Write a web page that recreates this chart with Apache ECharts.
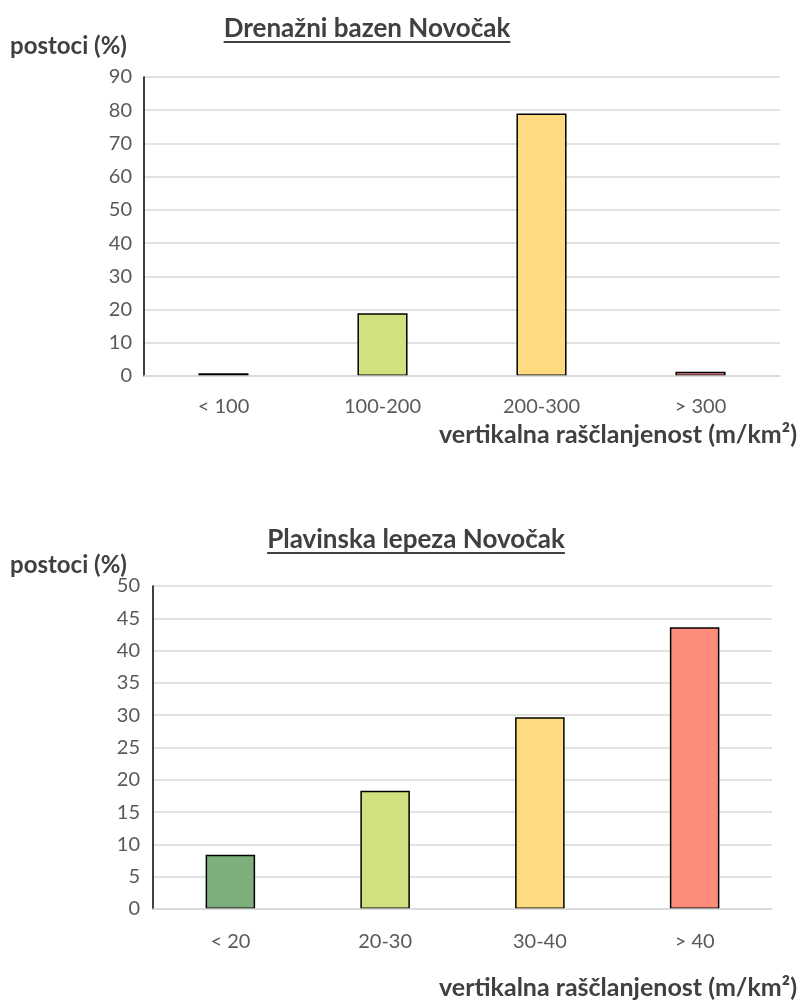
<!DOCTYPE html>
<html>
<head>
<meta charset="utf-8">
<script src="https://cdn.jsdelivr.net/npm/echarts@6/dist/echarts.min.js"></script>
<style>
html,body{margin:0;padding:0;background:#fff;}
#chart{width:803px;height:1003px;}
</style>
</head>
<body>
<div id="chart"></div>
<script>
// ---- data ----
const title1 = 'Drenažni bazen Novočak';
const title2 = 'Plavinska lepeza Novočak';
const categories1 = ['< 100', '100-200', '200-300', '> 300'];
const values1 = [0.8, 18.9, 79.0, 1.3];
const colors1 = ['#7daf7d', '#d3e07f', '#fedb80', '#f98b8b'];
const categories2 = ['< 20', '20-30', '30-40', '> 40'];
const values2 = [8.4, 18.3, 29.7, 43.6];
const colors2 = ['#7daf7d', '#d3e07f', '#fedb80', '#fe8c7a'];
const yName = 'postoci (%)';
const xName = 'vertikalna raščlanjenost (m/km²)';

const FONT = 'Lato';
const chart = echarts.init(document.getElementById('chart'), null, {renderer: 'canvas'});

function measure(text, font) {
  const c = document.createElement('canvas').getContext('2d');
  c.font = font;
  return c.measureText(text).width;
}

function titleGraphic(text, cx, cy) {
  const font = 'bold 26px ' + FONT;
  const w = measure(text, font);
  return [
    {type: 'text', left: cx - w / 2, top: cy - 14,
     style: {text: text, font: font, fill: '#404040'}},
    {type: 'line', shape: {x1: cx - w / 2, y1: cy + 12, x2: cx + w / 2, y2: cy + 12},
     style: {stroke: '#404040', lineWidth: 1.8}}
  ];
}

function bars(values, colors) {
  return values.map((v, i) => ({value: v, itemStyle: {color: colors[i]}}));
}

const axisLabelStyle = {color: '#595959', fontSize: 20, fontFamily: FONT};
const nameFont = 'bold 24px ' + FONT;
const xNameFont = 'bold 25px ' + FONT;

const option = {
  animation: false,
  grid: [
    {left: 144, right: 23, top: 77, bottom: 627},
    {left: 153, right: 31, top: 586, bottom: 94}
  ],
  xAxis: [0, 1].map(i => ({
    type: 'category', gridIndex: i,
    data: i === 0 ? categories1 : categories2,
    axisLine: {lineStyle: {color: '#d9d9d9', width: 1.5}},
    axisTick: {show: false},
    axisLabel: Object.assign({margin: i === 0 ? 21 : 23}, axisLabelStyle),
    z: 5
  })),
  yAxis: [
    {type: 'value', gridIndex: 0, min: 0, max: 90, interval: 10,
     axisLine: {show: true, lineStyle: {color: '#000', width: 1.5}},
     axisTick: {show: false},
     splitLine: {lineStyle: {color: '#d9d9d9', width: 1.5}},
     axisLabel: Object.assign({margin: 12}, axisLabelStyle)},
    {type: 'value', gridIndex: 1, min: 0, max: 50, interval: 5,
     axisLine: {show: true, lineStyle: {color: '#000', width: 1.5}},
     axisTick: {show: false},
     splitLine: {lineStyle: {color: '#d9d9d9', width: 1.5}},
     axisLabel: Object.assign({margin: 13}, axisLabelStyle)}
  ],
  series: [
    {type: 'bar', xAxisIndex: 0, yAxisIndex: 0, barWidth: '31.5%',
     data: bars(values1, colors1),
     itemStyle: {borderColor: '#000', borderWidth: 1.5}},
    {type: 'bar', xAxisIndex: 1, yAxisIndex: 1, barWidth: '32%',
     data: bars(values2, colors2),
     itemStyle: {borderColor: '#000', borderWidth: 1.5}}
  ],
  graphic: [
    ...titleGraphic(title1, 367, 30),
    ...titleGraphic(title2, 416, 541),
    {type: 'text', left: 10, top: 34, style: {text: yName, font: nameFont, fill: '#404040'}},
    {type: 'text', left: 10, top: 553, style: {text: yName, font: nameFont, fill: '#404040'}},
    {type: 'text', right: 6, top: 422, style: {text: xName, font: xNameFont, fill: '#404040'}},
    {type: 'text', right: 6, top: 975, style: {text: xName, font: xNameFont, fill: '#404040'}}
  ]
};
chart.setOption(option);
</script>
</body>
</html>
